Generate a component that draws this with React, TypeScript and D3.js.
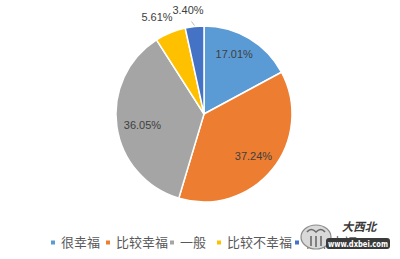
import React from "react";
import * as d3 from "d3";

const categories = ["很幸福", "比较幸福", "一般", "比较不幸福", "很不幸福"];
const values = [17.01, 37.24, 36.05, 5.61, 3.4];
const colors = ["#5B9BD5", "#ED7D31", "#A5A5A5", "#FFC000", "#4472C4"];

const W = 400;
const H = 259;
const cx = 204;
const cy = 114;
const R = 88;

// inside-label placement: radius fraction and angular nudge (degrees)
const labelPlacement = [
  { k: 0.76, shift: -4 },
  { k: 0.735, shift: 1 },
  { k: 0.71, shift: -2 },
];

export default function App() {
  const pie = d3
    .pie<number>()
    .sort(null)
    .value((d) => d)
    .startAngle(0)
    .endAngle(2 * Math.PI);
  const arcs = pie(values);
  const arcGen = d3.arc<d3.PieArcDatum<number>>().innerRadius(0).outerRadius(R);

  const legendX = [51, 106, 170, 217, 295];

  return (
    <svg
      width={W}
      height={H}
      style={{ position: "absolute", left: 0, top: 0, background: "#fff" }}
      fontFamily="'Liberation Sans', Arial, sans-serif"
    >
      <g transform={`translate(${cx},${cy})`}>
        {arcs.map((a, i) => (
          <path
            key={i}
            d={arcGen(a) || ""}
            fill={colors[i]}
            stroke="#fff"
            strokeWidth={1.5}
            strokeLinejoin="round"
          />
        ))}
        {arcs.slice(0, 3).map((a, i) => {
          const p = labelPlacement[i];
          const mid = (a.startAngle + a.endAngle) / 2 + (p.shift * Math.PI) / 180;
          const r = R * p.k;
          const x = Math.sin(mid) * r;
          const y = -Math.cos(mid) * r;
          return (
            <text
              key={i}
              x={x}
              y={y}
              dy="0.35em"
              textAnchor="middle"
              fontSize={11}
              fill="#404040"
            >
              {values[i].toFixed(2)}%
            </text>
          );
        })}
      </g>
      {/* small slices labelled outside */}
      <text x={157} y={21} textAnchor="middle" fontSize={11} fill="#404040">
        {values[3].toFixed(2)}%
      </text>
      <text x={188} y={13.5} textAnchor="middle" fontSize={11} fill="#404040">
        {values[4].toFixed(2)}%
      </text>
      <line x1={191.5} y1={21.5} x2={194.5} y2={25.5} stroke="#A6A6A6" strokeWidth={0.8} />

      {/* legend */}
      <g fontFamily="'Noto Sans CJK SC', sans-serif" fontSize={13} fill="#595959">
        {categories.map((c, i) => (
          <g key={c}>
            <rect x={legendX[i]} y={240.5} width={4} height={4} fill={colors[i]} />
            <text x={legendX[i] + 10} y={246.5}>
              {c}
            </text>
          </g>
        ))}
      </g>

      {/* site mark */}
      <g>
        <ellipse cx={316} cy={237} rx={15} ry={12} fill="#d9d9d9" stroke="#8a8a8a" strokeWidth={1.2} />
        <path d="M307 232 q4 -5 9 0 q5 -5 9 0 M311 236 v10 M316 236 v11 M321 236 v10" stroke="#6a6a6a" strokeWidth={1.6} fill="none" />
        <rect x={326} y={238} width={64} height={11} rx={3} fill="#3a3a3a" />
        <text x={328} y={246.5} fontSize={8} fontWeight="bold" fill="#fff" textLength={60} lengthAdjust="spacingAndGlyphs" fontFamily="'DejaVu Sans', sans-serif">
          www.dxbei.com
        </text>
        <text x={359} y={231} textAnchor="middle" fontSize={11.5} fontWeight="bold" fill="#3a3a3a" fontStyle="italic" fontFamily="'Noto Sans CJK SC', sans-serif" stroke="#fff" strokeWidth={0.6} paintOrder="stroke">
          大西北
        </text>
      </g>
    </svg>
  );
}
